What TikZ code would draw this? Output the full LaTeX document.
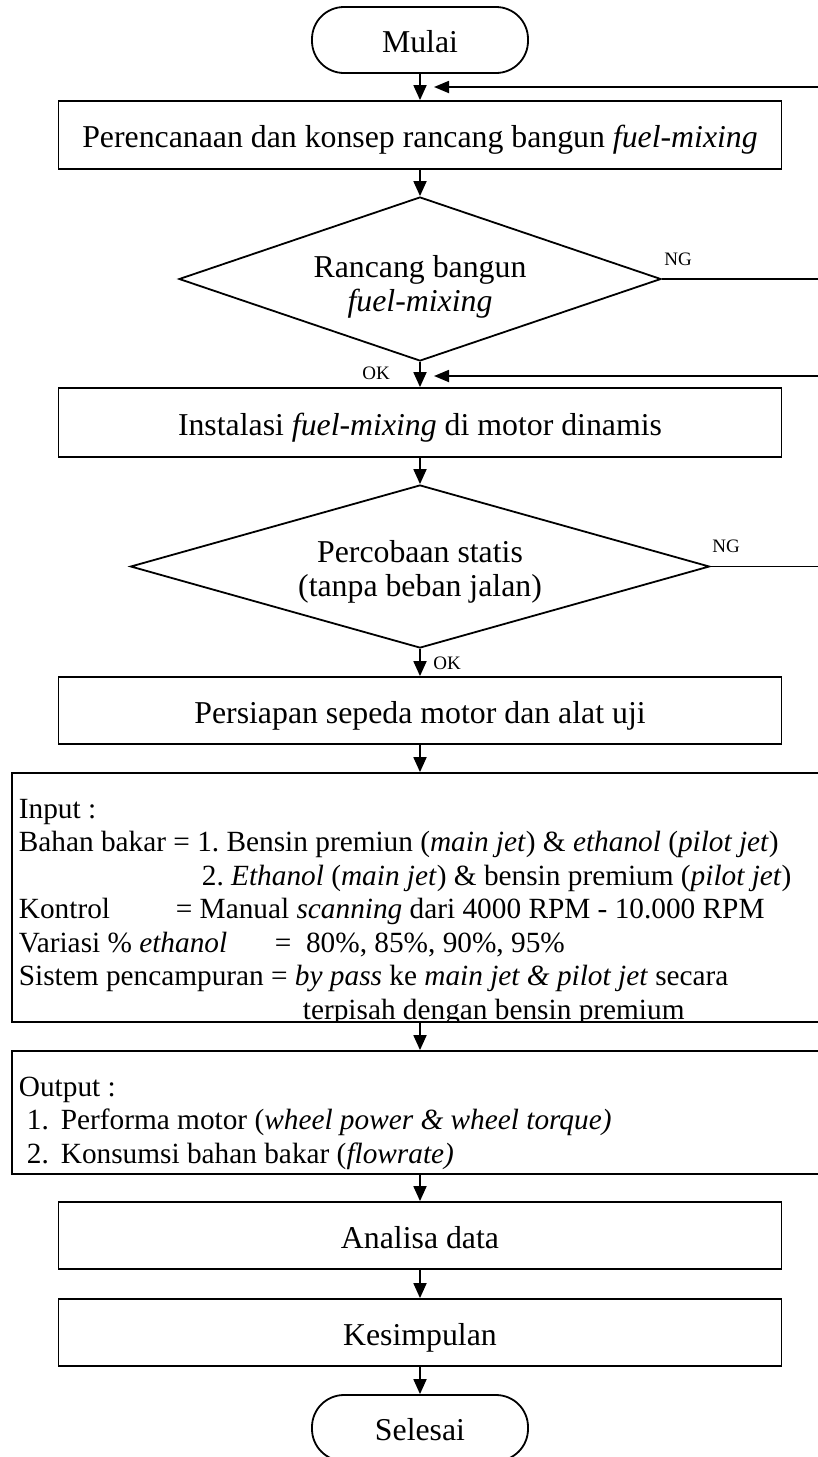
\documentclass[tikz,border=0pt]{standalone}
\usepackage{fontspec}
\setmainfont{Liberation Serif}
\usetikzlibrary{arrows.meta,shapes.geometric}
\tikzset{term/.style={
            draw,
            rounded corners=32pt,
            minimum width=216pt,
            minimum height=66pt,
            text height=33pt,
            text depth=8pt,
            inner sep=0pt
        },
        proc/.style={
            draw,
            minimum width=723pt,
            minimum height=68pt,
            text height=33pt,
            text depth=8pt,
            inner sep=0pt
        },
        dec/.style={
            draw,
            diamond,
            aspect=3,
            inner sep=0pt
        },
        iobox/.style={
            draw,
            minimum width=818pt,
            inner sep=0pt
        },
        listing/.style={
            anchor=north west,
            align=left,
            inner sep=0pt,
            font=\fontsize{29.3}{33.5}\selectfont\frenchspacing
        },
        tag/.style={
            font=\fontsize{19}{22}\selectfont
        },
        arr/.style={
            -{Triangle[length=15pt,width=13pt]}
        },
        back/.style={
            -{Triangle[length=15pt,width=12pt]}
        }
    }
\begin{document}
\begin{tikzpicture}[x=1pt,y=-1pt,line width=1.8pt,every node/.style={font=\fontsize{31.8}{34}\selectfont}]
        \useasboundingbox (0,0) rectangle (818,1457);
        \clip (0,0) rectangle (818,1457);
        \node[term] (mulai) at (420,40) {Mulai};
        \node[proc] (plan) at (420,135) {Perencanaan dan konsep rancang bangun \textit{fuel-mixing}};
        \node[dec,minimum width=482pt,minimum height=164pt] (design) at (420,279) {};
        \node[align=center,inner sep=0pt] (designtxt) at (420,286.5) {Rancang bangun\\\textit{fuel-mixing}};
        \node[proc,minimum height=69pt] (install) at (420,422.5) {Instalasi \textit{fuel-mixing} di motor dinamis};
        \node[dec,minimum width=579pt,minimum height=163pt] (static) at (420,566.5) {};
        \node[align=center,inner sep=0pt] (statictxt) at (420,571.5) {Percobaan statis\\(tanpa beban jalan)};
        \node[proc,minimum height=67pt] (prep) at (420,710.5) {Persiapan sepeda motor dan alat uji};
        \node[iobox,minimum height=249pt] (input) at (420.75,897.5) {};
        \node[iobox,minimum height=123pt] (output) at (420.75,1112.5) {};
        \node[proc,minimum height=67pt] (analisa) at (420,1235.5) {Analisa data};
        \node[proc,minimum height=67pt] (simpul) at (420,1332.5) {Kesimpulan};
        \node[term] (selesai) at (420,1428) {Selesai};
        \begin{scope}
            \clip (input.north west) rectangle (input.south east);
            \node[listing] (intext) at (18,798) {Input :\\
                Bahan bakar = 1. Bensin premiun (\textit{main jet}) \& \textit{ethanol} (\textit{pilot jet})\\
                \hspace*{183pt}2. \textit{Ethanol} (\textit{main jet}) \& bensin premium (\textit{pilot jet})\\
                \makebox[157pt][l]{Kontrol}= Manual \textit{scanning} dari 4000 RPM - 10.000 RPM\\
                \makebox[256pt][l]{Variasi \% \textit{ethanol}}=\ \ 80\%, 85\%, 90\%, 95\%\\
                Sistem pencampuran = \textit{by pass} ke \textit{main jet \& pilot jet} secara\\
                \hspace*{284pt}terpisah dengan bensin premium};
        \end{scope}
        \node[listing] (outtext) at (18,1076) {Output :\\
            \hspace*{8pt}\makebox[34pt][l]{1.}Performa motor (\textit{wheel power \& wheel torque)}\\
            \hspace*{8pt}\makebox[34pt][l]{2.}Konsumsi bahan bakar (\textit{flowrate)}};
        \draw[arr] (mulai) -- (plan);
        \draw[arr] (plan) -- (design);
        \draw[arr] (design) -- (install);
        \draw[arr] (install) -- (static);
        \draw[arr] (static) -- (prep);
        \draw[arr] (prep) -- (prep.south |- input.north);
        \draw[arr] (prep.south |- input.south) -- (prep.south |- output.north);
        \draw[arr] (prep.south |- output.south) -- (analisa);
        \draw[arr] (analisa) -- (simpul);
        \draw[arr] (simpul) -- (selesai);
        \coordinate (loop1) at (434,87);
        \coordinate (loop2) at (434,376);
        \draw[back] (design.east) -- ++(200,0) |- (loop1);
        \draw[back] (static.east) -- ++(130,0) |- (loop2);
        \node[tag] (ng1) at (678,259) {NG};
        \node[tag] (ok1) at (376,373) {OK};
        \node[tag] (ng2) at (726,546) {NG};
        \node[tag] (ok2) at (447,663) {OK};
    \end{tikzpicture}
\end{document}
